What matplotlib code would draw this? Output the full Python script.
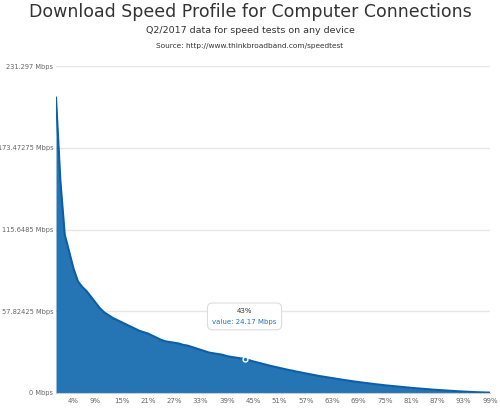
import matplotlib
matplotlib.use("Agg")
import matplotlib.pyplot as plt

percent = list(range(100))
speed = [209, 150, 112, 100, 88, 79, 75, 72, 68, 64, 60, 57, 55, 53, 51.5, 50, 48.5, 47, 45.5, 44,
         43, 42, 40.5, 39, 37.5, 36.5, 36, 35.5, 35, 34, 33.5, 32.5, 31.5, 30.5, 29.5, 28.5, 28, 27.5, 27, 26,
         25.5, 25, 24.5, 24.17, 23.2, 22.3, 21.5, 20.7, 19.9, 19.1, 18.4, 17.7, 17.0, 16.3, 15.7, 15.0, 14.4, 13.8, 13.2, 12.6,
         12.0, 11.5, 11.0, 10.5, 10.0, 9.5, 9.0, 8.6, 8.1, 7.7, 7.3, 6.9, 6.5, 6.1, 5.8, 5.4, 5.1, 4.8, 4.5, 4.2,
         3.9, 3.6, 3.3, 3.1, 2.8, 2.6, 2.3, 2.1, 1.9, 1.7, 1.5, 1.3, 1.1, 0.95, 0.8, 0.65, 0.5, 0.4, 0.3, 0.2]
xticks = [4, 9, 15, 21, 27, 33, 39, 45, 51, 57, 63, 69, 75, 81, 87, 93, 99]
yticks = [0, 57.82425, 115.6485, 173.47275, 231.297]
ylabels = ["0 Mbps", "57.82425 Mbps", "115.6485 Mbps", "173.47275 Mbps", "231.297 Mbps"]
hl = 43

fig = plt.figure(figsize=(5, 4.11), dpi=100)
ax = fig.add_axes([0.112, 0.044, 0.868, 0.795])
ax.fill_between(percent, speed, color="#2574b4", lw=0)
ax.plot(percent, speed, color="#0b5ea8", lw=1.5)
ax.set_xlim(0, 99)
ax.set_ylim(0, 231.297)
ax.set_yticks(yticks)
ax.set_yticklabels(ylabels, fontsize=4.8, color="#666666")
ax.set_xticks(xticks)
ax.set_xticklabels([f"{t}%" for t in xticks], fontsize=5, color="#666666")
ax.tick_params(axis="y", length=0, pad=2)
ax.tick_params(axis="x", length=0, pad=4)
ax.grid(axis="y", color="#e6e6e6", lw=1)
ax.set_axisbelow(True)
for s in ["top", "right", "left"]:
    ax.spines[s].set_visible(False)
ax.spines["bottom"].set_color("#cccccc")

ax.plot([hl], [speed[hl]], "o", ms=3.5, mfc="#2574b4", mec="white", mew=1)
ax.text(hl, speed[hl] + 30, f"{hl}%\nvalue: {speed[hl]} Mbps", ha="center", va="center", fontsize=5,
        color="none", linespacing=2.0,
        bbox=dict(boxstyle="round,pad=0.7", fc="white", ec="#dddddd", lw=0.8))
ax.text(hl, speed[hl] + 34, f"{hl}%", ha="center", va="center", fontsize=5, color="#333333")
ax.text(hl, speed[hl] + 26, f"value: {speed[hl]} Mbps", ha="center", va="center", fontsize=5, color="#2574b4")

fig.text(0.5, 0.972, "Download Speed Profile for Computer Connections", ha="center", va="center", fontsize=12.5, color="#333333")
fig.text(0.5, 0.925, "Q2/2017 data for speed tests on any device", ha="center", va="center", fontsize=6.8, color="#333333")
fig.text(0.5, 0.888, "Source: http://www.thinkbroadband.com/speedtest", ha="center", va="center", fontsize=5.3, color="#333333")
fig.savefig("out.png", dpi=100)
